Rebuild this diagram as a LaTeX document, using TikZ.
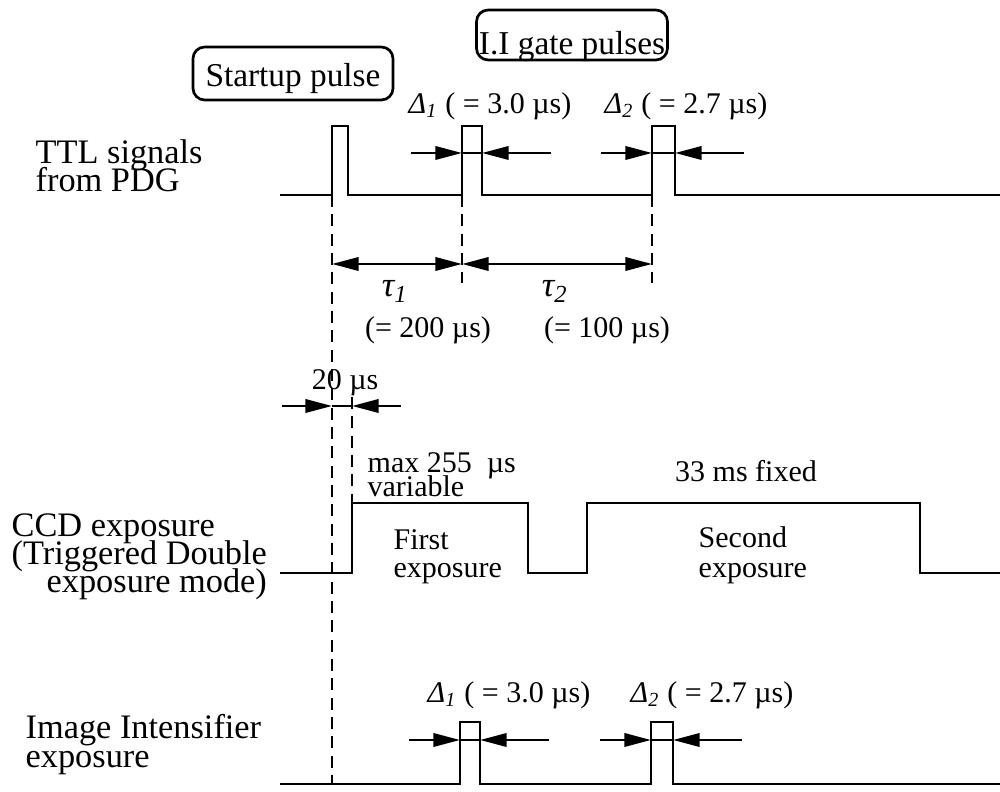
\documentclass[tikz,border=0pt]{standalone}
\usepackage{fontspec}
\setmainfont{Liberation Serif}
\usetikzlibrary{arrows.meta}
\setlength{\lineskiplimit}{-20pt}

\tikzset{
  sig/.style={line width=0.8pt},
  dimarrow/.style={line width=0.8pt, -{Triangle[length=8pt,width=4pt]}},
  spanarrow/.style={line width=0.8pt, {Triangle[length=8pt,width=4pt]}-{Triangle[length=8pt,width=4pt]}},
  guide/.style={line width=0.8pt, dash pattern=on 3.6pt off 2.2pt},
  lbl/.style={font=\fontsize{10.3}{8.4}\selectfont, align=left, inner sep=0pt},
  note/.style={font=\fontsize{9}{8.4}\selectfont, align=left, inner sep=0pt},
  tag/.style={draw, rounded corners=3.5pt, line width=0.8pt, inner xsep=0pt,
              inner ysep=0pt, font=\fontsize{10}{12}\selectfont},
}

\begin{document}
\begin{tikzpicture}[x=0.3pt, y=-0.3pt]

  \useasboundingbox (0,0) rectangle (1000,792);

  %--- Row labels (base = last line) ---------------------------------------
  \node[lbl, anchor=base west] (ttl) at (35,192) {TTL signals\\from PDG};
  \node[lbl, anchor=base west] (ccd) at (11,593)
       {CCD exposure\\(Triggered Double\\\hspace*{10.5pt}exposure mode)};
  \node[lbl, anchor=base west] (intens) at (25,767) {Image Intensifier\\exposure};

  %--- Pulse tags ----------------------------------------------------------
  \node[tag, anchor=base, minimum width=60pt, text height=12pt, text depth=3.9pt]
       (startup) at (293,87) {Startup pulse};
  \node[tag, anchor=base, minimum width=57.3pt, text height=13.5pt, text depth=1.5pt]
       (gate) at (572,55) {I.I gate pulses};

  %--- TTL signals ---------------------------------------------------------
  \draw[sig] (280,195) -- (332,195) -- (332,126) -- (348,126) -- (348,195)
        -- (462,195) -- (462,126) -- (482,126) -- (482,195)
        -- (652,195) -- (652,126) -- (675,126) -- (675,195) -- (1000,195);

  %--- CCD exposure --------------------------------------------------------
  \draw[sig] (280,573) -- (352,573) -- (352,503) -- (528,503) -- (528,573)
        -- (587,573) -- (587,503) -- (920,503) -- (920,573) -- (1000,573);

  %--- Image intensifier ---------------------------------------------------
  \draw[sig] (280,784) -- (460,784) -- (460,722) -- (480,722) -- (480,784)
        -- (651,784) -- (651,722) -- (673,722) -- (673,784) -- (1000,784);

  %--- Dashed guides -------------------------------------------------------
  \draw[guide] (332,195) -- (332,784);
  \draw[guide] (462,195) -- (462,283);
  \draw[guide] (652,195) -- (652,283);
  \draw[guide] (352,397) -- (352,503);

  %--- Pulse widths --------------------------------------------------------
  \foreach \xa/\xb/\y in {462/482/153, 652/675/153, 460/480/740, 651/673/740} {
    \draw[dimarrow] (\xa-51,\y) -- (\xa,\y);
    \draw[dimarrow] (\xb+69,\y) -- (\xb,\y);
    \draw[sig] (\xa,\y) -- (\xb,\y);
  }
  \node[note, anchor=base west] (widthA) at (408,114)
       {\textit{Δ\textsubscript{1}} ( = 3.0 µs)};
  \node[note, anchor=base west] (widthB) at (604,114)
       {\textit{Δ\textsubscript{2}} ( = 2.7 µs)};
  \node[note, anchor=base west] (widthC) at (427,703)
       {\textit{Δ\textsubscript{1}} ( = 3.0 µs)};
  \node[note, anchor=base west] (widthD) at (630,703)
       {\textit{Δ\textsubscript{2}} ( = 2.7 µs)};

  %--- Delays --------------------------------------------------------------
  \draw[spanarrow] (332,264) -- (462,264);
  \draw[spanarrow] (462,264) -- (652,264);
  \node[font=\fontsize{10.5}{12}\selectfont, anchor=base] (tauA) at (395,297)
       {\textit{τ\textsubscript{1}}};
  \node[font=\fontsize{10.5}{12}\selectfont, anchor=base] (tauB) at (555,297)
       {\textit{τ\textsubscript{2}}};
  \node[note, anchor=base] (tauAval) at (428,338) {(= 200 µs)};
  \node[note, anchor=base] (tauBval) at (607,338) {(= 100 µs)};

  %--- CCD offset ----------------------------------------------------------
  \draw[dimarrow] (282,406) -- (332,406);
  \draw[dimarrow] (401,406) -- (352,406);
  \draw[sig] (332,406) -- (352,406);
  \node[note, anchor=base] (offset) at (345,390) {20 µs};

  %--- Exposure notes (base = last line) -----------------------------------
  \node[note, anchor=base west, font=\fontsize{9}{7.2}\selectfont] (firstlen)
       at (367,497) {max 255~~µs\\variable};
  \node[note, anchor=base west] (first) at (393,578) {First\\exposure};
  \node[note, anchor=base] (secondlen) at (746,482) {33 ms fixed};
  \node[note, anchor=base west, font=\fontsize{9}{9}\selectfont] (second)
       at (698,578) {Second\\exposure};

\end{tikzpicture}
\end{document}
